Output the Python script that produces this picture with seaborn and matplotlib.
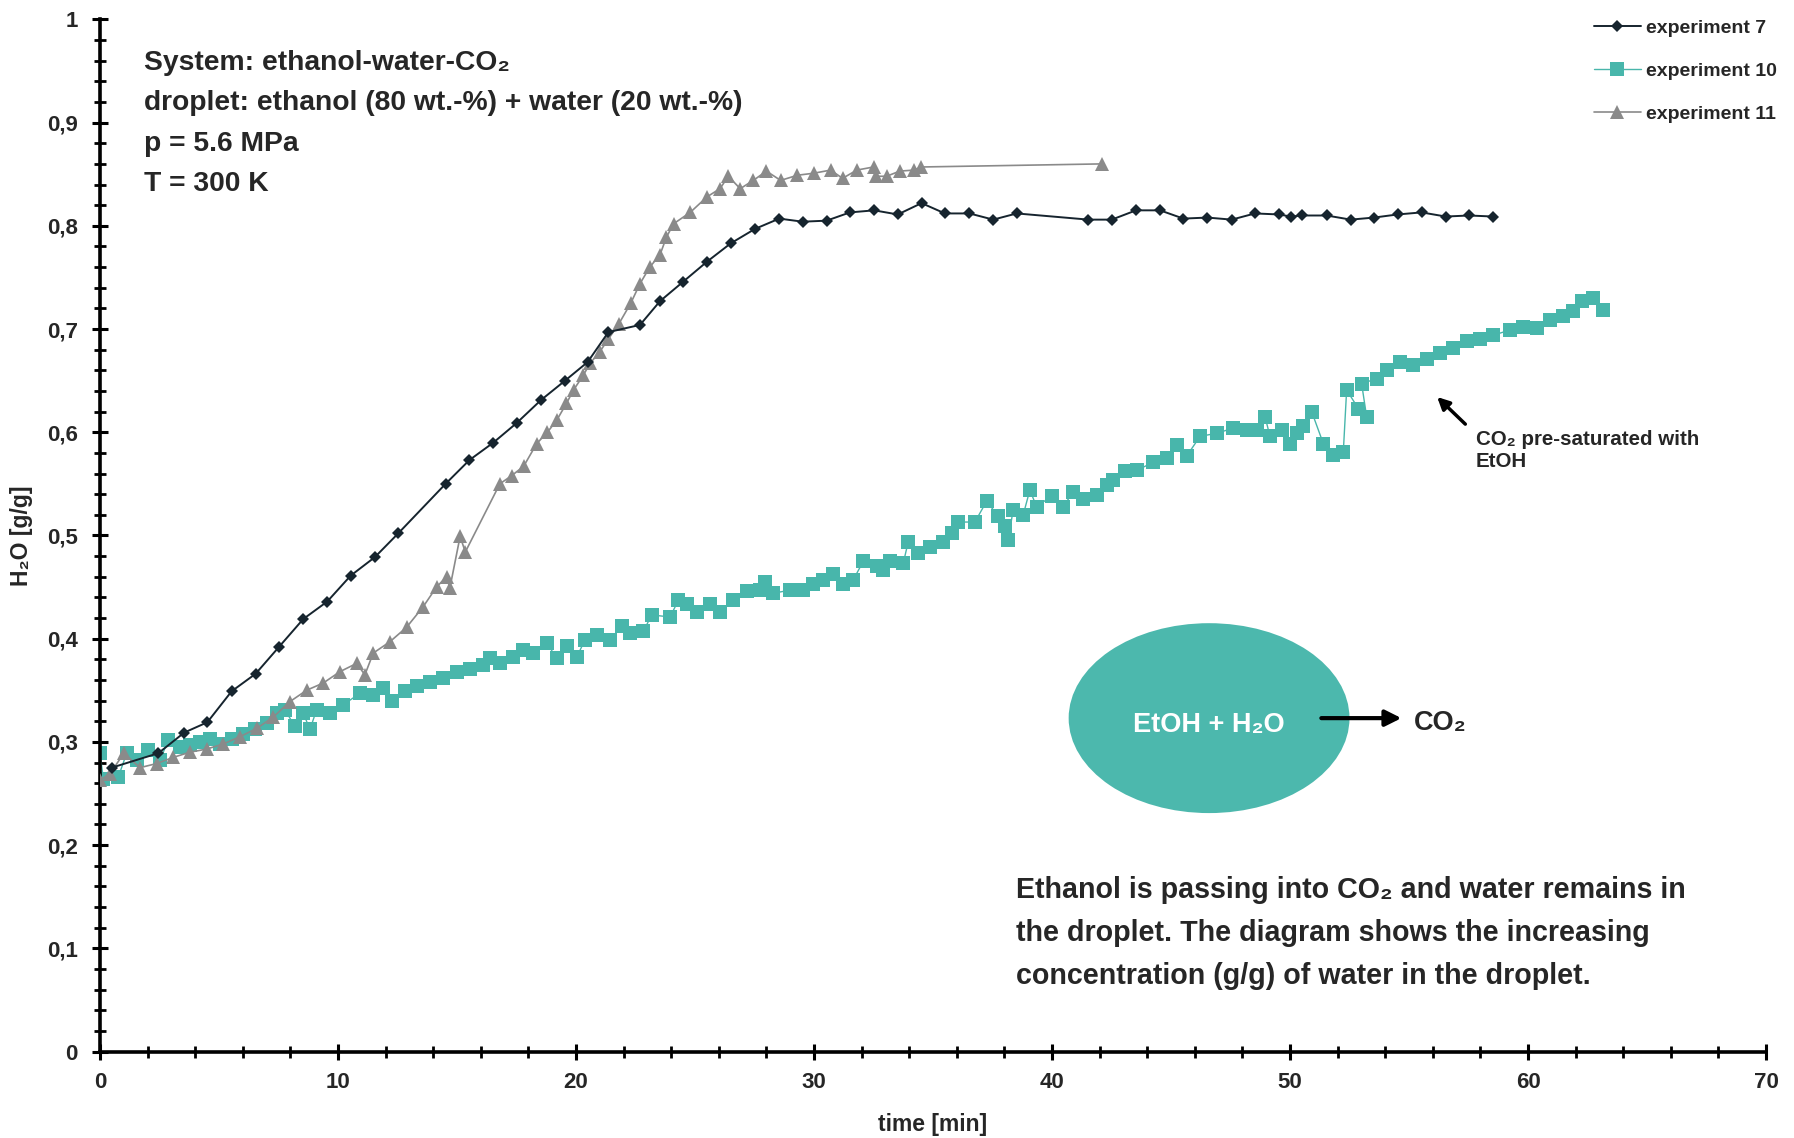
import matplotlib
matplotlib.use("Agg")
import matplotlib.pyplot as plt
from matplotlib import font_manager
from matplotlib.patches import Ellipse
from matplotlib.ticker import MultipleLocator, FuncFormatter
import seaborn as sns
import pandas as pd

# ---------------- data ----------------
exp7_t = [0.49, 2.45, 3.54, 4.51, 5.53, 6.54, 7.52, 8.54, 9.55, 10.53, 11.55, 12.53,
          14.52, 15.52, 16.53, 17.51, 18.52, 19.54, 20.49, 21.36, 22.69, 23.53, 24.51,
          25.49, 26.50, 27.52, 28.54, 29.52, 30.53, 31.51, 32.53, 33.52, 34.52, 35.50,
          36.53, 37.53, 38.52, 41.53, 42.51, 43.53, 44.54, 45.52, 46.53, 47.55, 48.53,
          49.54, 50.03, 50.52, 51.54, 52.55, 53.53, 54.52, 55.53, 56.54, 57.52, 58.54]
exp7_v = [0.275, 0.289, 0.309, 0.319, 0.349, 0.366, 0.392, 0.419, 0.436, 0.461, 0.479, 0.502,
          0.550, 0.573, 0.590, 0.609, 0.631, 0.650, 0.668, 0.697, 0.704, 0.727, 0.746,
          0.765, 0.783, 0.797, 0.807, 0.804, 0.805, 0.813, 0.815, 0.811, 0.822, 0.812,
          0.812, 0.806, 0.812, 0.806, 0.806, 0.815, 0.815, 0.807, 0.808, 0.806, 0.812,
          0.811, 0.809, 0.810, 0.810, 0.806, 0.808, 0.811, 0.813, 0.809, 0.810, 0.809]

exp10_t = [0.00, 0.14, 0.77, 1.12, 1.54, 2.03, 2.52, 2.87, 3.36, 3.78, 4.20, 4.62, 5.04,
           5.53, 6.02, 6.51, 7.00, 7.42, 7.77, 8.19, 8.54, 8.82, 9.10, 9.66, 10.22, 10.92,
           11.48, 11.90, 12.25, 12.82, 13.31, 13.87, 14.43, 14.99, 15.55, 16.11, 16.39,
           16.81, 17.37, 17.79, 18.21, 18.77, 19.19, 19.61, 20.03, 20.38, 20.87, 21.43,
           21.92, 22.27, 22.83, 23.18, 23.95, 24.30, 24.65, 25.07, 25.63, 26.05, 26.61,
           27.17, 27.73, 27.94, 28.29, 28.99, 29.55, 29.97, 30.39, 30.81, 31.23, 31.65,
           32.07, 32.63, 32.91, 33.19, 33.75, 33.96, 34.38, 34.87, 35.43, 35.78, 36.06,
           36.76, 37.25, 37.74, 38.02, 38.16, 38.37, 38.79, 39.07, 39.35, 39.98, 40.47,
           40.89, 41.31, 41.87, 42.29, 42.58, 43.07, 43.56, 44.26, 44.82, 45.24, 45.66,
           46.22, 46.92, 47.62, 48.18, 48.60, 48.95, 49.16, 49.65, 50.00, 50.28, 50.56,
           50.91, 51.40, 51.82, 52.24, 52.38, 52.87, 53.22, 53.01, 53.64, 54.06, 54.62,
           55.18, 55.74, 56.30, 56.86, 57.42, 57.98, 58.54, 59.24, 59.80, 60.36, 60.92,
           61.48, 61.90, 62.25, 62.74, 63.16]
exp10_v = [0.289, 0.264, 0.266, 0.289, 0.282, 0.292, 0.282, 0.302, 0.295, 0.297, 0.300, 0.303,
           0.298, 0.303, 0.308, 0.312, 0.318, 0.328, 0.331, 0.315, 0.328, 0.312, 0.331, 0.328,
           0.336, 0.347, 0.345, 0.352, 0.340, 0.349, 0.354, 0.358, 0.362, 0.368, 0.371, 0.374,
           0.381, 0.376, 0.382, 0.389, 0.386, 0.396, 0.381, 0.393, 0.382, 0.399, 0.404, 0.399,
           0.412, 0.405, 0.407, 0.423, 0.421, 0.437, 0.434, 0.426, 0.434, 0.426, 0.437,
           0.446, 0.447, 0.455, 0.444, 0.447, 0.447, 0.453, 0.457, 0.463, 0.453, 0.457,
           0.475, 0.470, 0.467, 0.475, 0.473, 0.494, 0.483, 0.489, 0.494, 0.502, 0.513,
           0.513, 0.533, 0.519, 0.509, 0.496, 0.525, 0.520, 0.544, 0.528, 0.538, 0.528,
           0.542, 0.535, 0.539, 0.549, 0.554, 0.562, 0.563, 0.571, 0.575, 0.588, 0.577,
           0.596, 0.599, 0.604, 0.602, 0.602, 0.615, 0.596, 0.602, 0.589, 0.599, 0.606,
           0.620, 0.589, 0.578, 0.581, 0.641, 0.623, 0.615, 0.647, 0.652, 0.660, 0.668,
           0.665, 0.671, 0.677, 0.682, 0.688, 0.690, 0.694, 0.699, 0.702, 0.701, 0.709,
           0.713, 0.717, 0.727, 0.730, 0.718]

exp11_t = [0.00, 0.42, 1.00, 1.68, 2.38, 3.08, 3.78, 4.48, 5.18, 5.88, 6.58, 7.28, 7.98,
           8.68, 9.38, 10.08, 10.78, 11.13, 11.48, 12.18, 12.88, 13.58, 14.14, 14.56, 14.70,
           15.13, 15.35, 16.80, 17.30, 17.80, 18.35, 18.80, 19.20, 19.60, 19.90, 20.30,
           20.60, 21.00, 21.35, 21.80, 22.30, 22.69, 23.10, 23.53, 23.80, 24.10, 24.80,
           25.50, 26.05, 26.40, 26.90, 27.45, 28.00, 28.60, 29.30, 30.00, 30.70, 31.20,
           31.80, 32.50, 32.60, 33.05, 33.60, 34.20, 34.50, 42.10]
exp11_v = [0.263, 0.269, 0.289, 0.275, 0.279, 0.285, 0.290, 0.293, 0.298, 0.305, 0.313, 0.324,
           0.339, 0.350, 0.357, 0.368, 0.376, 0.365, 0.386, 0.397, 0.411, 0.431, 0.450, 0.460,
           0.449, 0.499, 0.484, 0.550, 0.558, 0.567, 0.589, 0.600, 0.612, 0.628, 0.641, 0.655,
           0.667, 0.678, 0.690, 0.705, 0.725, 0.744, 0.760, 0.772, 0.789, 0.802, 0.813,
           0.828, 0.836, 0.848, 0.836, 0.844, 0.853, 0.844, 0.849, 0.851, 0.854, 0.846,
           0.854, 0.857, 0.848, 0.848, 0.853, 0.854, 0.857, 0.860]

series_names = ["experiment 7", "experiment 10", "experiment 11"]

# ---------------- style ----------------
sns.set_theme(style="white")
names = {f.name for f in font_manager.fontManager.ttflist}
main_font = "Liberation Sans Narrow" if "Liberation Sans Narrow" in names else "Liberation Sans"
FAM = [main_font, "DejaVu Sans"]
plt.rcParams["font.family"] = FAM
plt.rcParams["font.weight"] = "bold"

C7 = "#16242e"
C10 = "#48b6ab"
C11 = "#8a8a8a"

fig = plt.figure(figsize=(17.94, 11.38), dpi=100)
ax = fig.add_axes([100 / 1794, 1 - 1051.5 / 1138, (1766 - 100) / 1794, (1051.5 - 19.4) / 1138])

df7 = pd.DataFrame({"t": exp7_t, "v": exp7_v})
df10 = pd.DataFrame({"t": exp10_t, "v": exp10_v})
df11 = pd.DataFrame({"t": exp11_t, "v": exp11_v})

sns.lineplot(data=df10, x="t", y="v", ax=ax, estimator=None, sort=False, color=C10,
             lw=1.0, marker="s", markersize=10.5, markeredgewidth=0, label=series_names[1], zorder=2)
sns.lineplot(data=df11, x="t", y="v", ax=ax, estimator=None, sort=False, color=C11,
             lw=1.2, marker="^", markersize=10, markeredgewidth=0, label=series_names[2], zorder=3)
sns.lineplot(data=df7, x="t", y="v", ax=ax, estimator=None, sort=False, color=C7,
             lw=1.4, marker="D", markersize=6.5, markeredgewidth=0, label=series_names[0], zorder=4)

ax.set_xlim(0, 70)
ax.set_ylim(0, 1)
ax.xaxis.set_major_locator(MultipleLocator(10))
ax.xaxis.set_minor_locator(MultipleLocator(2))
ax.yaxis.set_major_locator(MultipleLocator(0.1))
ax.yaxis.set_minor_locator(MultipleLocator(0.02))
ax.yaxis.set_major_formatter(FuncFormatter(lambda v, p: ("%g" % round(v, 2)).replace(".", ",")))
ax.xaxis.set_major_formatter(FuncFormatter(lambda v, p: "%g" % v))

for s in ["top", "right"]:
    ax.spines[s].set_visible(False)
for s in ["left", "bottom"]:
    ax.spines[s].set_linewidth(2.6)
    ax.spines[s].set_color("black")
ax.tick_params(which="major", direction="inout", length=12, width=2.2, color="black",
               labelsize=16, left=True, bottom=True)
ax.tick_params(axis="y", which="major", pad=10)
ax.tick_params(axis="x", which="major", pad=9)
ax.tick_params(which="minor", direction="inout", length=9, width=2.0, color="black",
               left=True, bottom=True)
for lab in ax.get_xticklabels() + ax.get_yticklabels():
    lab.set_fontweight("bold")
ax.grid(False)

ax.set_xlabel("time [min]", fontsize=16.5, fontweight="bold", labelpad=14)
ax.set_ylabel("H₂O [g/g]", fontsize=16.5, fontweight="bold", labelpad=10)

# legend
h, l = ax.get_legend_handles_labels()
order = [l.index(n) for n in series_names]
leg = ax.legend([h[i] for i in order], [l[i] for i in order], loc="upper right",
                bbox_to_anchor=(0.995, 0.990), bbox_transform=fig.transFigure,
                frameon=False, fontsize=14, handlelength=2.4, handletextpad=0.3,
                labelspacing=1.3, borderaxespad=0)
for t in leg.get_texts():
    t.set_fontweight("bold")

# annotations
info = ["System: ethanol-water-CO₂",
        "droplet: ethanol (80 wt.-%) + water (20 wt.-%)",
        "p = 5.6 MPa",
        "T = 300 K"]
for i, line in enumerate(info):
    ax.text(1.85, 0.958 - i * 0.0392, line, fontsize=20.3, fontweight="bold", va="center",
            ha="left", family=FAM)

ax.add_patch(Ellipse((46.6, 0.323), 11.8, 0.184, color="#4cb8ad", zorder=1, lw=0))
ax.text(46.6, 0.316, "EtOH + H₂O", color="white", fontsize=19.5, fontweight="bold",
        ha="center", va="center", family=FAM, zorder=5)
ax.annotate("", xy=(54.8, 0.323), xytext=(51.2, 0.323),
            arrowprops=dict(arrowstyle="-|>,head_length=0.8,head_width=0.4", lw=3, color="black"))
ax.text(55.2, 0.318, "CO₂", fontsize=19.5, fontweight="bold", ha="left", va="center", family=FAM)

ax.annotate("", xy=(56.1, 0.636), xytext=(57.45, 0.606),
            arrowprops=dict(arrowstyle="-|>,head_length=0.6,head_width=0.3", lw=2.5, color="black"))
ax.text(57.8, 0.582, "CO₂ pre-saturated with\nEtOH", fontsize=14.8, fontweight="bold",
        ha="left", va="center", family=FAM, linespacing=1.2)

ax.text(38.5, 0.115, "Ethanol is passing into CO₂ and water remains in\n"
        "the droplet. The diagram shows the increasing\n"
        "concentration (g/g) of water in the droplet.",
        fontsize=20.6, fontweight="bold", ha="left", va="center", family=FAM, linespacing=1.68)

fig.savefig("out.png", dpi=100)
